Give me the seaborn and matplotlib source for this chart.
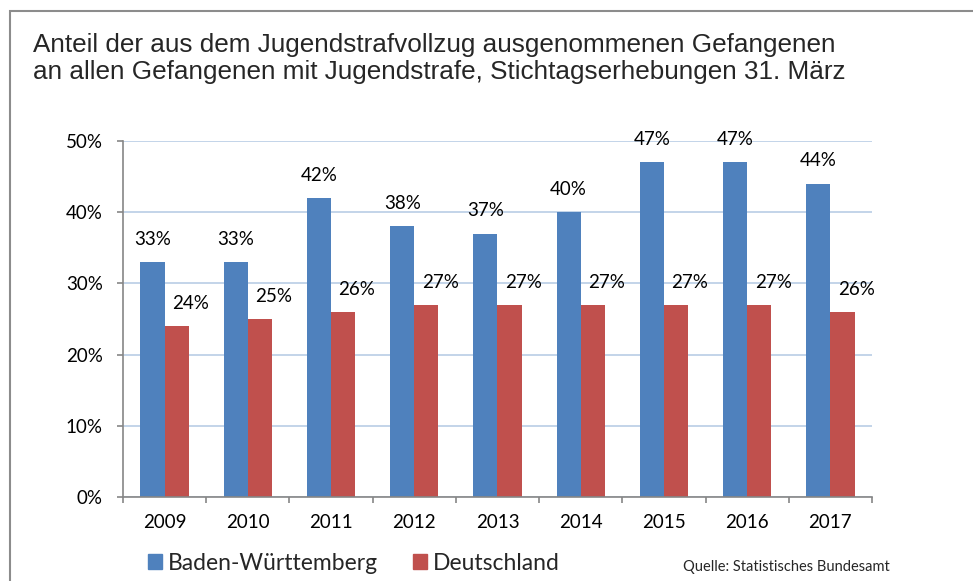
import numpy as np
import pandas as pd
import matplotlib
matplotlib.use('Agg')
import matplotlib.pyplot as plt
import seaborn as sns
from matplotlib.patches import Rectangle
from matplotlib.ticker import FixedLocator, PercentFormatter

# data
years = ['2009', '2010', '2011', '2012', '2013', '2014', '2015', '2016', '2017']
bw = [33, 33, 42, 38, 37, 40, 47, 47, 44]
de = [24, 25, 26, 27, 27, 27, 27, 27, 26]
series = ['Baden-Württemberg', 'Deutschland']

df = pd.DataFrame({
    'Jahr': years * 2,
    'Anteil': bw + de,
    'Gebiet': [series[0]] * len(years) + [series[1]] * len(years),
})

sns.set_style('white')
plt.rcParams['font.family'] = ['Lato', 'DejaVu Sans']

blue = '#4F81BD'
red = '#C0504D'
axis_grey = '#868686'

fig = plt.figure(figsize=(9.73, 5.81), dpi=100)
ax = fig.add_axes([123 / 973, 1 - 497 / 581, (872 - 123) / 973, (497 - 141) / 581])

sns.barplot(data=df, x='Jahr', y='Anteil', hue='Gebiet', palette=[blue, red],
            width=0.58, gap=0, ax=ax, legend=False, saturation=1, linewidth=0)

ax.set_ylim(0, 50)
ax.set_xlim(-0.5, len(years) - 0.5)
ax.set_yticks(np.arange(0, 51, 10))
ax.yaxis.set_major_formatter(PercentFormatter(decimals=0))
ax.set_xlabel('')
ax.set_ylabel('')

ax.yaxis.grid(True, color='#B9CDE5', linewidth=1.2)
ax.set_axisbelow(True)
for side in ['top', 'right']:
    ax.spines[side].set_visible(False)
for side in ['left', 'bottom']:
    ax.spines[side].set_color(axis_grey)
    ax.spines[side].set_linewidth(1.2)

ax.tick_params(axis='y', which='major', left=True, length=4.5, width=1.2,
               color=axis_grey, pad=10, labelsize=13.5, labelcolor='black')
ax.tick_params(axis='x', which='major', length=0, pad=12, labelsize=13.5, labelcolor='black')
ax.xaxis.set_minor_locator(FixedLocator(np.arange(-0.5, len(years), 1)))
ax.tick_params(axis='x', which='minor', bottom=True, length=4.5, width=1.2, color=axis_grey)

# data labels
bars = ax.patches
for i, p in enumerate(bars[:len(years) * 2]):
    x = p.get_x() + p.get_width() / 2
    h = p.get_height()
    if i < len(years):
        off = (0, 16.5)
    else:
        off = (10, 16)
    ax.annotate(f'{h:.0f}%', (x, h), xytext=off, textcoords='offset points',
                ha='center', va='center', fontsize=13.5, color='black')

# outer frame
fig.patches.append(Rectangle((10 / 973, -0.1), 1.2, 1 - 11 / 581 + 0.1,
                             transform=fig.transFigure, fill=False,
                             edgecolor='#8C8C8C', linewidth=1.5))

fig.text(33 / 973, 1 - 58.5 / 581,
         'Anteil der aus dem Jugendstrafvollzug ausgenommenen Gefangenen\n'
         'an allen Gefangenen mit Jugendstrafe, Stichtagserhebungen 31. März',
         family=['Liberation Sans', 'DejaVu Sans'], fontsize=18.8,
         va='center', ha='left', linespacing=1.15)

# legend
handles = [Rectangle((0, 0), 1, 1, color=blue), Rectangle((0, 0), 1, 1, color=red)]
fig.legend(handles, series, loc='center left', bbox_to_anchor=(127 / 973, 1 - 563 / 581),
           ncol=2, frameon=False, fontsize=16.5, handlelength=0.62, handleheight=0.62,
           handletextpad=0.25, columnspacing=1.55)

fig.text(890 / 973, 1 - 567 / 581, 'Quelle: Statistisches Bundesamt',
         ha='right', va='center', fontsize=10.5)

fig.savefig('out.png', dpi=100)
